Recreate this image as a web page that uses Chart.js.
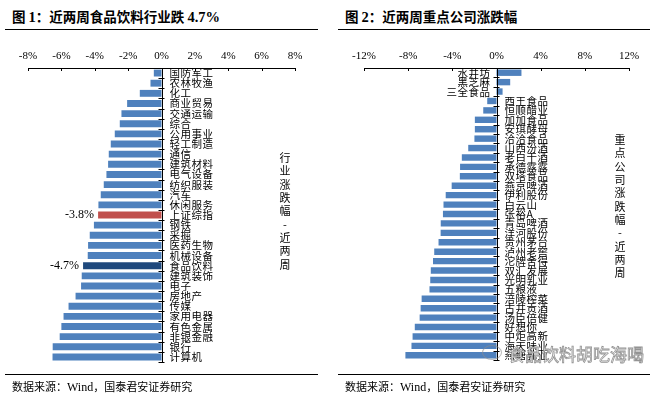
<!DOCTYPE html>
<html>
<head>
<meta charset="utf-8">
<script src="https://cdn.jsdelivr.net/npm/chart.js@4.4.1/dist/chart.umd.min.js"></script>
<style>
  body { margin: 0; width: 656px; height: 397px; background: #fff; position: relative; overflow: hidden; }
  canvas { position: absolute; top: 0; }
  #leftChart { left: 0; }
  #rightChart { left: 328px; }
  .title { position: absolute; top: 6px; font: bold 13.5px "Noto Sans CJK SC", sans-serif; color: #000; white-space: nowrap; }
  .title b { font-family: "Liberation Serif", serif; font-size: 14.5px; }
  .rule { position: absolute; height: 0; border-top: 1px solid #000; }
  .source { position: absolute; top: 378px; font: 11px "Noto Sans CJK SC", sans-serif; color: #000; white-space: nowrap; }
  .source span { font-family: "Liberation Serif", serif; font-size: 12px; }
  .mark { position: absolute; left: 508px; top: 341px; font: 17px "Noto Sans CJK SC", sans-serif; color: #fff; -webkit-text-stroke: 0.8px rgba(120,120,120,0.8); white-space: nowrap; }
  .icon { position: absolute; left: 482px; top: 345px; width: 18px; height: 13px; border: 1px solid rgba(140,140,140,0.6); border-radius: 50%; }
</style>
</head>
<body>
<div class="title" style="left:12px">图 <b>1</b>：近两周食品饮料行业跌 <b>4.7%</b></div>
<div class="title" style="left:345px">图 <b>2</b>：近两周重点公司涨跌幅</div>
<div class="rule" style="left:5px;width:313px;top:29px"></div>
<div class="rule" style="left:338px;width:312px;top:29px"></div>
<div class="rule" style="left:5px;width:313px;top:374px"></div>
<div class="rule" style="left:338px;width:312px;top:374px"></div>

<canvas id="leftChart" width="328" height="397"></canvas>
<canvas id="rightChart" width="328" height="397"></canvas>

<div class="source" style="left:12px">数据来源：<span>Wind</span>，国泰君安证券研究</div>
<div class="source" style="left:345px">数据来源：<span>Wind</span>，国泰君安证券研究</div>
<div class="icon"></div>
<div class="mark">食品饮料胡吃海喝</div>

<script>
// 图1 industries, two-week change (%)
const industryNames = ['国防军工', '农林牧渔', '化工', '商业贸易', '交通运输', '综合', '公用事业', '轻工制造', '通信', '建筑材料',
    '电气设备', '纺织服装', '汽车', '休闲服务', '上证综指', '钢铁', '采掘', '医药生物', '机械设备', '食品饮料',
    '建筑装饰', '电子', '房地产', '传媒', '家用电器', '有色金属', '非银金融', '银行', '计算机'];
const industryChange = [-0.46, -0.66, -1.3, -2.06, -2.4, -2.5, -2.8, -3.04, -3.16, -3.2,
    -3.3, -3.46, -3.64, -3.78, -3.8, -4.05, -4.3, -4.4, -4.42, -4.7,
    -4.78, -4.82, -5.15, -5.57, -5.87, -6.0, -6.1, -6.52, -6.53];
const industryTicks = [-8, -6, -4, -2, 0, 2, 4, 6, 8];

// 图2 key companies, two-week change (%)
const companyNames = ['水井坊', '黑芝麻', '三全食品', '西王食品', '恒顺醋业', '加加食品', '安琪酵母', '洽洽食品', '山西汾酒', '老白干酒',
    '承德露露', '双塔食品', '燕京啤酒', '伊利股份', '白云山', '张裕A', '青岛啤酒', '洋河股份', '贵州茅台', '泸州老窖',
    '沱牌舍得', '双汇发展', '光明乳业', '五粮液', '涪陵榨菜', '古井贡酒', '汤臣倍健', '好想你', '中炬高新', '海天味业', '燕塘乳业'];
const companyChange = [2.26, 1.24, 0.55, -0.84, -1.2, -1.96, -1.96, -2.0, -2.56, -3.14,
    -3.3, -3.32, -4.06, -4.6, -4.8, -4.85, -5.05, -5.06, -5.25, -5.64,
    -5.75, -5.95, -6.0, -6.07, -6.78, -6.87, -6.96, -7.4, -7.6, -7.7, -8.25];
const companyTicks = [-12, -8, -4, 0, 4, 8, 12];

const blue = '#4f81bd';
const red = '#c0504d';
const navy = '#1f497d';

// draws the zero axis, category ticks, names, value tags and the vertical series name
const axisPlugin = {
    id: 'axisPlugin',
    afterDatasetsDraw(chart) {
        const ctx = chart.ctx;
        const xs = chart.scales.x;
        const ys = chart.scales.y;
        const area = chart.chartArea;
        const opts = chart.options.plugins.axisPlugin;
        const x0 = xs.getPixelForValue(0);
        const n = chart.data.labels.length;
        const step = (area.bottom - area.top) / n;

        ctx.save();
        ctx.strokeStyle = '#000';
        ctx.lineWidth = 1;
        ctx.beginPath();
        ctx.moveTo(Math.round(x0) + 0.5, area.top);
        ctx.lineTo(Math.round(x0) + 0.5, area.bottom);
        for (let i = 0; i <= n; i++) {
            const y = Math.round(area.top + i * step) + 0.5;
            ctx.moveTo(x0 - 3, y);
            ctx.lineTo(x0 + 3, y);
        }
        // top axis tick marks point down
        xs.ticks.forEach(t => {
            const x = Math.round(xs.getPixelForValue(t.value)) + 0.5;
            ctx.moveTo(x, area.top);
            ctx.lineTo(x, area.top + 3);
        });
        ctx.stroke();

        // category names next to the zero line
        ctx.fillStyle = '#000';
        ctx.font = '10.5px "Noto Sans CJK SC"';
        ctx.letterSpacing = '0.5px';
        ctx.textBaseline = 'middle';
        const values = chart.data.datasets[0].data;
        chart.data.labels.forEach((name, i) => {
            const y = ys.getPixelForValue(i);
            if (values[i] < 0) {
                ctx.textAlign = 'left';
                ctx.fillText(name, x0 + 8, y);
            } else {
                ctx.textAlign = 'right';
                ctx.fillText(name, x0 - 6, y);
            }
        });

        // value tags for highlighted bars
        ctx.letterSpacing = '0px';
        ctx.font = '12px "Liberation Serif"';
        ctx.textAlign = 'right';
        const meta = chart.getDatasetMeta(0);
        (opts.tagged || []).forEach(name => {
            const i = chart.data.labels.indexOf(name);
            if (i < 0) return;
            const bar = meta.data[i];
            ctx.fillText(values[i].toFixed(1) + '%', bar.x - 4, bar.y);
        });

        // vertical series name
        ctx.font = '11px "Noto Sans CJK SC"';
        ctx.textAlign = 'center';
        const chars = Array.from(opts.seriesName);
        chars.forEach((c, k) => {
            ctx.fillText(c, opts.nameX, opts.nameY + k * 13.3);
        });
        ctx.restore();
    }
};

function makeChart(id, names, values, ticks, padding, colors, extra) {
    const ctx = document.getElementById(id).getContext('2d');
    return new Chart(ctx, {
        type: 'bar',
        data: {
            labels: names,
            datasets: [{
                data: values,
                backgroundColor: colors,
                borderWidth: 0,
                barPercentage: 0.68,
                categoryPercentage: 1
            }]
        },
        options: {
            indexAxis: 'y',
            responsive: false,
            animation: false,
            devicePixelRatio: 1,
            layout: { padding: padding },
            plugins: {
                legend: { display: false },
                tooltip: { enabled: false },
                axisPlugin: extra
            },
            scales: {
                x: {
                    position: 'top',
                    min: ticks[0],
                    max: ticks[ticks.length - 1],
                    afterBuildTicks: scale => {
                        scale.ticks = ticks.map(v => ({ value: v }));
                    },
                    afterFit: scale => { scale.height = 22; },
                    ticks: {
                        callback: v => v + '%',
                        color: '#000',
                        padding: 5,
                        maxRotation: 0,
                        font: { family: 'Liberation Serif', size: 11 }
                    },
                    grid: { display: false, drawTicks: false },
                    border: { display: true, color: '#000', width: 1 }
                },
                y: {
                    display: false,
                    grid: { display: false }
                }
            }
        },
        plugins: [axisPlugin]
    });
}

const industryColors = industryNames.map(n => n === '上证综指' ? red : (n === '食品饮料' ? navy : blue));

makeChart('leftChart', industryNames, industryChange, industryTicks,
    { left: 28, right: 33, top: 46, bottom: 35 }, industryColors,
    { tagged: ['上证综指', '食品饮料'], seriesName: '行业涨跌幅-近两周', nameX: 285, nameY: 158 });

makeChart('rightChart', companyNames, companyChange, companyTicks,
    { left: 36, right: 27, top: 46, bottom: 37 }, blue,
    { tagged: [], seriesName: '重点公司涨跌幅-近两周', nameX: 292, nameY: 140 });
</script>
</body>
</html>
